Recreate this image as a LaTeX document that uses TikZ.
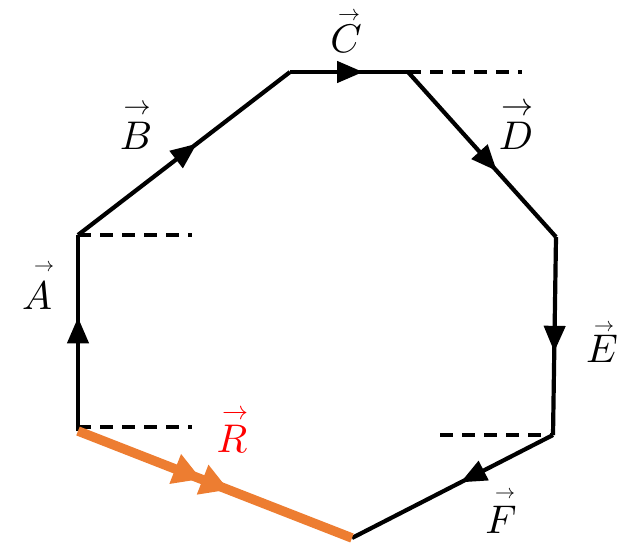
\documentclass[tikz,border=0pt]{standalone}
\usetikzlibrary{arrows.meta,decorations.markings}
\definecolor{rorange}{HTML}{ED7D31}
\tikzset{
  edge/.style={line width=4.2pt, black},
  midarrow/.style={postaction={decorate},decoration={markings,
    mark=at position #1 with {\arrow{Triangle[length=26pt,width=21pt]}}}},
  dashline/.style={line width=4.2pt, dash pattern=on 13pt off 9pt},
  vlabel/.style={scale=4, inner sep=0pt},
  varrow/.style={scale=#1, inner sep=0pt},
  rline/.style={line width=9.5pt, rorange},
}
\begin{document}
\begin{tikzpicture}[x=1pt,y=-1pt]
\useasboundingbox (0,0) rectangle (628,543);
\coordinate (P0) at (78,431);
\coordinate (P1) at (78,235);
\coordinate (P2) at (290,72);
\coordinate (P3) at (408,72);
\coordinate (P4) at (556,237);
\coordinate (P5) at (553,435);
\coordinate (P6) at (352,538);
\coordinate (d1) at (192,235);
\coordinate (d2) at (522,72);
\coordinate (d3) at (192,427);
\coordinate (d3s) at (78,427);
\coordinate (d4) at (440,435);
% dashed reference lines
\draw[dashline] (P1) -- (d1);
\draw[dashline] (P3) -- (d2);
\draw[dashline] (d3s) -- (d3);
\draw[dashline] (d4) -- (P5);
% edges
\draw[edge, midarrow=0.58] (P0) -- (P1);
\draw[edge, midarrow=0.56] (P1) -- (P2);
\draw[edge, midarrow=0.62] (P2) -- (P3);
\draw[edge, midarrow=0.60] (P3) -- (P4);
\draw[edge, midarrow=0.58] (P4) -- (P5);
\draw[edge, midarrow=0.46] (P5) -- (P6);
% resultant
\draw[rline, postaction={decorate}, decoration={markings,
  mark=at position 0.45 with {\arrow{Triangle[length=28pt,width=30pt]}},
  mark=at position 0.55 with {\arrow{Triangle[length=28pt,width=30pt]}}}]
  (P0) -- (P6);
% labels: letters
\node[vlabel] (lA) at (37,296) {$A$};
\node[vlabel] (lB) at (136,136) {$B$};
\node[vlabel] (lC) at (346,39) {$C$};
\node[vlabel] (lD) at (516,136) {$D$};
\node[vlabel] (lE) at (602,349) {$E$};
\node[vlabel] (lF) at (501,520) {$F$};
\node[vlabel, text=red] (lR) at (232,439) {$R$};
% labels: vector arrows
\node[varrow=2.0] (aA) at (44,268) {$\rightarrow$};
\node[varrow=2.7] (aB) at (137,110) {$\rightarrow$};
\node[varrow=2.2] (aC) at (349,16.5) {$\rightarrow$};
\node[varrow=3.2] (aD) at (517,110) {$\rightarrow$};
\node[varrow=2.0] (aE) at (604,328) {$\rightarrow$};
\node[varrow=2.0] (aF) at (505,495) {$\rightarrow$};
\node[varrow=2.6, text=red] (aR) at (235,415) {$\rightarrow$};
\end{tikzpicture}
\end{document}
